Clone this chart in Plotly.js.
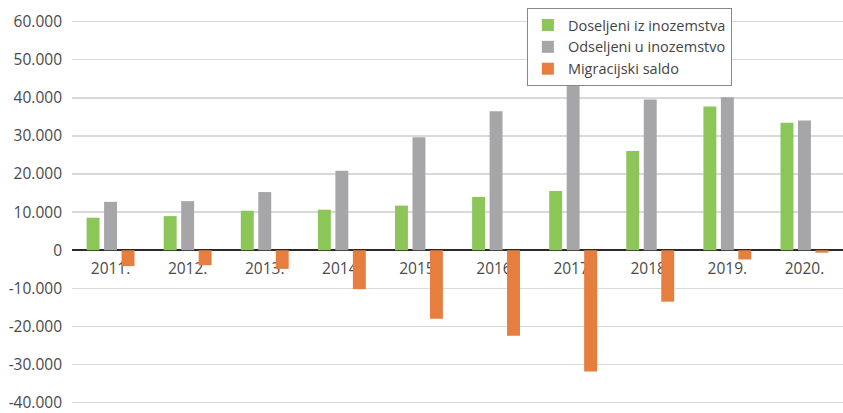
<!DOCTYPE html>
<html>
<head>
<meta charset="utf-8">
<script src="https://cdn.plot.ly/plotly-3.0.1.min.js"></script>
<style>html,body{margin:0;padding:0;background:#fff;}#chart{width:843px;height:413px;}</style>
</head>
<body>
<div id="chart"></div>
<script>
const years = ["2011.", "2012.", "2013.", "2014.", "2015.", "2016.", "2017.", "2018.", "2019.", "2020."];
const doseljeni = [8534, 8959, 10378, 10638, 11706, 13985, 15553, 26029, 37726, 33414];
const odseljeni = [12699, 12877, 15262, 20858, 29651, 36436, 47352, 39515, 40148, 34046];
const saldo = [-4165, -3918, -4884, -10220, -17945, -22451, -31799, -13486, -2422, -632];
const seriesNames = ["Doseljeni iz inozemstva", "Odseljeni u inozemstvo", "Migracijski saldo"];
const yTickVals = [-40000, -30000, -20000, -10000, 0, 10000, 20000, 30000, 40000, 50000, 60000];
const yTickText = ["-40.000", "-30.000", "-20.000", "-10.000", "0", "10.000", "20.000", "30.000", "40.000", "50.000", "60.000"];

const colors = ["#8cc558", "#a6a6a9", "#e57e3f"];
const values = [doseljeni, odseljeni, saldo];
const traces = values.map((v, i) => ({
  type: "bar", x: years, y: v, name: seriesNames[i],
  marker: {color: colors[i]}, hoverinfo: "skip"
}));

const yMin = -40600, yMax = 60400;
const layout = {
  width: 843, height: 413,
  margin: {l: 72, r: 0, t: 20, b: 8},
  paper_bgcolor: "#fff", plot_bgcolor: "#fff",
  font: {family: "Open Sans, sans-serif", size: 15, color: "#4a4a4a"},
  barmode: "group", bargap: 0.32, bargroupgap: 0.26,
  showlegend: true,
  legend: {
    x: 0.59, y: 1.031, xanchor: "left", yanchor: "top",
    bgcolor: "#fff", bordercolor: "#888", borderwidth: 1,
    font: {family: "Open Sans, sans-serif", size: 14.5, color: "#444"},
    tracegroupgap: 0, itemwidth: 30
  },
  xaxis: {
    type: "category", anchor: "free", position: (0 - yMin) / (yMax - yMin),
    showgrid: false, showline: false, zeroline: false, ticks: "",
    ticklabelstandoff: 7, layer: "below traces",
    tickfont: {size: 15.5, color: "#4a4a4a"}, fixedrange: true
  },
  yaxis: {
    range: [yMin, yMax], tickvals: yTickVals, ticktext: yTickText,
    showgrid: true, gridcolor: "#d9d9d9", gridwidth: 1.5,
    zeroline: true, zerolinecolor: "#2a2a2a", zerolinewidth: 2,
    showline: false, ticks: "", ticklabelstandoff: 9, ticklabeloverflow: "allow",
    tickfont: {size: 15.5, color: "#4a4a4a"}, fixedrange: true
  }
};

Plotly.newPlot("chart", traces, layout, {displayModeBar: false, staticPlot: true});
</script>
</body>
</html>
